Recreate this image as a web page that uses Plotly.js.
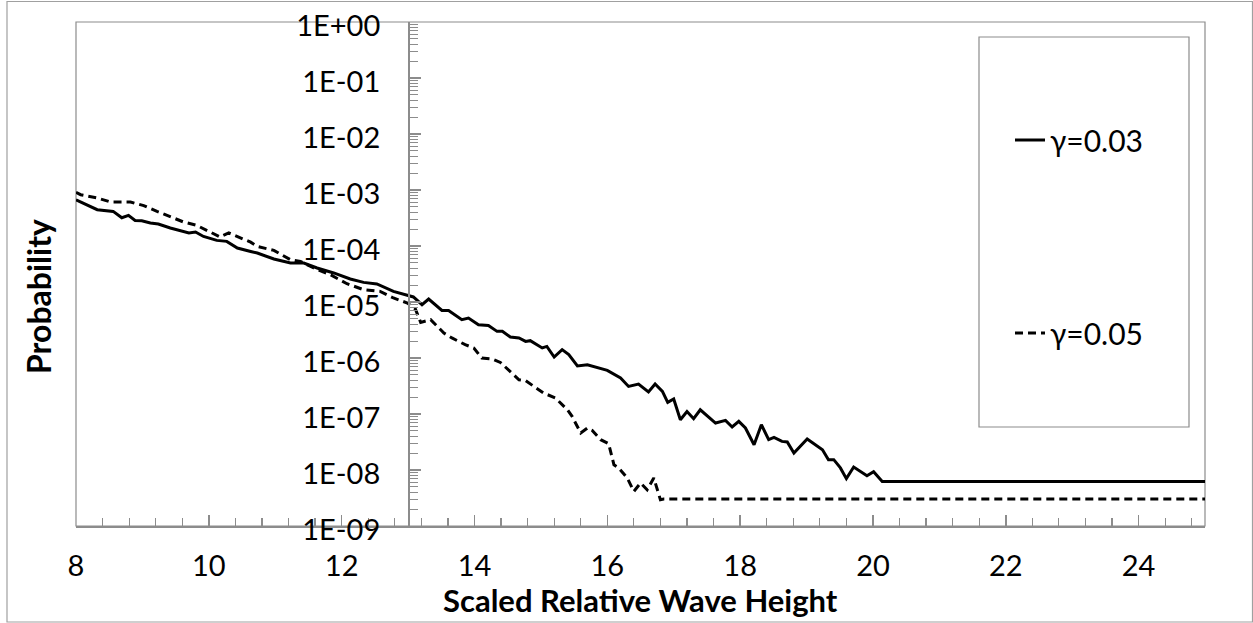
<!DOCTYPE html>
<html>
<head>
<meta charset="utf-8">
<script src="https://cdn.plot.ly/plotly-3.0.1.min.js"></script>
<style>html,body{margin:0;padding:0;background:#fff;}#chart{width:1253px;height:623px;}</style>
</head>
<body>
<div id="chart"></div>
<script>
// ---- Data ----
const seriesNames = ["γ=0.03", "γ=0.05"];

const xSolid = [8.00, 8.32, 8.56, 8.69, 8.79, 8.89, 8.99, 9.12, 9.24, 9.42, 9.70, 9.80, 9.92, 10.12, 10.27, 10.43, 10.63, 10.73, 10.98, 11.23, 11.43, 11.63, 11.88, 12.13, 12.33, 12.53, 12.78, 12.99, 13.08, 13.21, 13.31, 13.51, 13.61, 13.81, 13.91, 14.06, 14.21, 14.34, 14.42, 14.54, 14.67, 14.77, 14.84, 15.02, 15.09, 15.20, 15.32, 15.42, 15.55, 15.70, 15.90, 16.00, 16.20, 16.32, 16.47, 16.62, 16.72, 16.83, 16.91, 17.00, 17.10, 17.20, 17.30, 17.40, 17.63, 17.78, 17.88, 17.98, 18.08, 18.21, 18.32, 18.43, 18.51, 18.63, 18.71, 18.81, 19.01, 19.16, 19.24, 19.33, 19.41, 19.51, 19.60, 19.71, 19.91, 20.01, 20.14, 25.00];
const ySolid = [6.7e-4, 4.45e-4, 4.15e-4, 3.2e-4, 3.52e-4, 2.86e-4, 2.83e-4, 2.57e-4, 2.47e-4, 2.1e-4, 1.71e-4, 1.78e-4, 1.48e-4, 1.26e-4, 1.21e-4, 9.2e-5, 8.0e-5, 7.5e-5, 5.86e-5, 4.97e-5, 4.97e-5, 4.05e-5, 3.3e-5, 2.58e-5, 2.24e-5, 2.1e-5, 1.55e-5, 1.33e-5, 1.23e-5, 8.95e-6, 1.13e-5, 7.08e-6, 7.08e-6, 4.83e-6, 5.18e-6, 3.93e-6, 3.82e-6, 2.99e-6, 2.99e-6, 2.37e-6, 2.28e-6, 1.98e-6, 2.04e-6, 1.51e-6, 1.61e-6, 1.04e-6, 1.41e-6, 1.15e-6, 7.2e-7, 7.59e-7, 6.37e-7, 6.01e-7, 4.4e-7, 3.11e-7, 3.43e-7, 2.47e-7, 3.43e-7, 2.53e-7, 1.61e-7, 1.85e-7, 7.91e-8, 1.11e-7, 8.24e-8, 1.19e-7, 6.9e-8, 7.69e-8, 5.86e-8, 7.38e-8, 5.62e-8, 2.83e-8, 6.44e-8, 3.48e-8, 3.82e-8, 3.24e-8, 3.16e-8, 2.01e-8, 3.58e-8, 2.64e-8, 2.3e-8, 1.53e-8, 1.53e-8, 1.09e-8, 7.0e-9, 1.13e-8, 7.91e-9, 9.33e-9, 6.25e-9, 6.25e-9];

const xDashed = [8.00, 8.07, 8.32, 8.52, 8.82, 9.02, 9.22, 9.42, 9.62, 9.82, 10.02, 10.17, 10.30, 10.43, 10.63, 10.73, 10.98, 11.23, 11.38, 11.58, 11.83, 12.08, 12.33, 12.58, 12.78, 12.99, 13.11, 13.19, 13.34, 13.54, 13.66, 13.86, 13.99, 14.11, 14.27, 14.39, 14.57, 14.67, 14.77, 14.89, 15.04, 15.22, 15.40, 15.47, 15.60, 15.70, 15.77, 15.90, 16.02, 16.10, 16.17, 16.30, 16.40, 16.50, 16.60, 16.70, 16.80, 16.85, 25.00];
const yDashed = [9.06e-4, 8.24e-4, 7.2e-4, 6.11e-4, 6.11e-4, 5.25e-4, 4.15e-4, 3.3e-4, 2.68e-4, 2.33e-4, 1.78e-4, 1.45e-4, 1.71e-4, 1.48e-4, 1.17e-4, 9.84e-5, 8.34e-5, 5.69e-5, 5.31e-5, 4.05e-5, 3.07e-5, 2.12e-5, 1.66e-5, 1.55e-5, 1.18e-5, 9.6e-6, 7.5e-6, 4.32e-6, 4.83e-6, 2.79e-6, 2.28e-6, 1.73e-6, 1.51e-6, 1.0e-6, 9.6e-7, 8.34e-7, 5.4e-7, 4.09e-7, 3.93e-7, 3.11e-7, 2.37e-7, 1.93e-7, 1.19e-7, 9.06e-8, 4.58e-8, 5.62e-8, 5.14e-8, 3.48e-8, 2.95e-8, 1.24e-8, 1.09e-8, 7.2e-9, 4.15e-9, 5.86e-9, 4.45e-9, 7.2e-9, 2.95e-9, 3.03e-9, 3.03e-9];

const yTickVals = [1, 1e-1, 1e-2, 1e-3, 1e-4, 1e-5, 1e-6, 1e-7, 1e-8, 1e-9];
const yTickText = ["1E+00", "1E-01", "1E-02", "1E-03", "1E-04", "1E-05", "1E-06", "1E-07", "1E-08", "1E-09"];
const xTickVals = [8, 10, 12, 14, 16, 18, 20, 22, 24];
const xTickText = ["8", "10", "12", "14", "16", "18", "20", "22", "24"];

const xTitle = "Scaled Relative Wave Height";
const yTitle = "Probability";
const xMin = 8, xMax = 25, yCross = 13;

// ---- Chart ----
const FONT = "Lato, 'Open Sans', sans-serif";
const AXIS = "#8c8c8c";

const minorVals = [];
for (let e = -9; e < 0; e++) for (let m = 2; m <= 9; m++) minorVals.push(m * Math.pow(10, e));

const traces = [
  { x: xSolid, y: ySolid, name: seriesNames[0], type: "scatter", mode: "lines",
    line: { color: "#000", width: 3 }, legend: "legend" },
  { x: xDashed, y: yDashed, name: seriesNames[1], type: "scatter", mode: "lines",
    line: { color: "#000", width: 3, dash: "8px,5px" }, legend: "legend2" }
];

const W = 1253, H = 623, L = 76, R = 48, T = 22, B = 97;
const pw = W - L - R, ph = H - T - B;
const px = v => (v - L) / pw;
const py = v => (H - B - v) / ph;

const layout = {
  width: W, height: H,
  margin: { l: L, r: R, t: T, b: B },
  paper_bgcolor: "#fff", plot_bgcolor: "#fff",
  font: { family: FONT, size: 28, color: "#000" },
  showlegend: true,
  xaxis: {
    range: [xMin, xMax], tickvals: xTickVals, ticktext: xTickText,
    showgrid: false, zeroline: false,
    showline: true, linecolor: AXIS, linewidth: 1.5,
    ticks: "inside", ticklen: 11, tickwidth: 1.5, tickcolor: AXIS,
    ticklabelstandoff: 14,
    minor: { dtick: 0.4, tick0: 8, ticks: "inside", ticklen: 8, tickwidth: 1.2, tickcolor: AXIS, showgrid: false },
    tickfont: { family: FONT, size: 29, color: "#000" }
  },
  yaxis: {
    type: "log", range: [-9, 0],
    tickvals: yTickVals, ticktext: yTickText,
    anchor: "free", position: (yCross - xMin) / (xMax - xMin), side: "left",
    showgrid: false, zeroline: false,
    showline: true, linecolor: AXIS, linewidth: 1.5,
    ticks: "inside", ticklen: 11, tickwidth: 1.5, tickcolor: AXIS,
    ticklabelstandoff: 22,
    ticklabelshift: 4,
    minor: { tickvals: minorVals, ticks: "inside", ticklen: 8, tickwidth: 1.2, tickcolor: AXIS, showgrid: false },
    tickfont: { family: FONT, size: 29, color: "#000" }
  },
  legend: {
    x: px(1010), xanchor: "left", y: py(140), yanchor: "middle",
    bgcolor: "rgba(0,0,0,0)", borderwidth: 0, itemwidth: 30,
    font: { family: FONT, size: 30, color: "#000" }
  },
  legend2: {
    x: px(1010), xanchor: "left", y: py(333), yanchor: "middle",
    bgcolor: "rgba(0,0,0,0)", borderwidth: 0, itemwidth: 30,
    font: { family: FONT, size: 30, color: "#000" }
  },
  shapes: [
    { type: "rect", xref: "paper", yref: "paper", x0: px(7), x1: px(1252.5), y0: py(622), y1: py(1.5),
      line: { color: "#a0a0a0", width: 1.2 }, layer: "below" },
    { type: "rect", xref: "paper", yref: "paper", x0: 0, x1: 1, y0: 0, y1: 1,
      line: { color: AXIS, width: 1.2 }, layer: "below" },
    { type: "rect", xref: "paper", yref: "paper", x0: px(979), x1: px(1189), y0: py(427), y1: py(37),
      line: { color: AXIS, width: 1.2 }, fillcolor: "rgba(255,255,255,0)", layer: "below" }
  ],
  annotations: [
    { text: "<b>" + xTitle + "</b>", xref: "paper", yref: "paper", x: px(640), y: py(621),
      xanchor: "center", yanchor: "bottom", showarrow: false,
      font: { family: FONT, size: 31, color: "#000" } },
    { text: "<b>" + yTitle + "</b>", xref: "paper", yref: "paper", x: px(38), y: py(297),
      xanchor: "center", yanchor: "middle", textangle: -90, showarrow: false,
      font: { family: FONT, size: 32, color: "#000" } }
  ]
};

Plotly.newPlot("chart", traces, layout, { displayModeBar: false, staticPlot: true });
</script>
</body>
</html>
